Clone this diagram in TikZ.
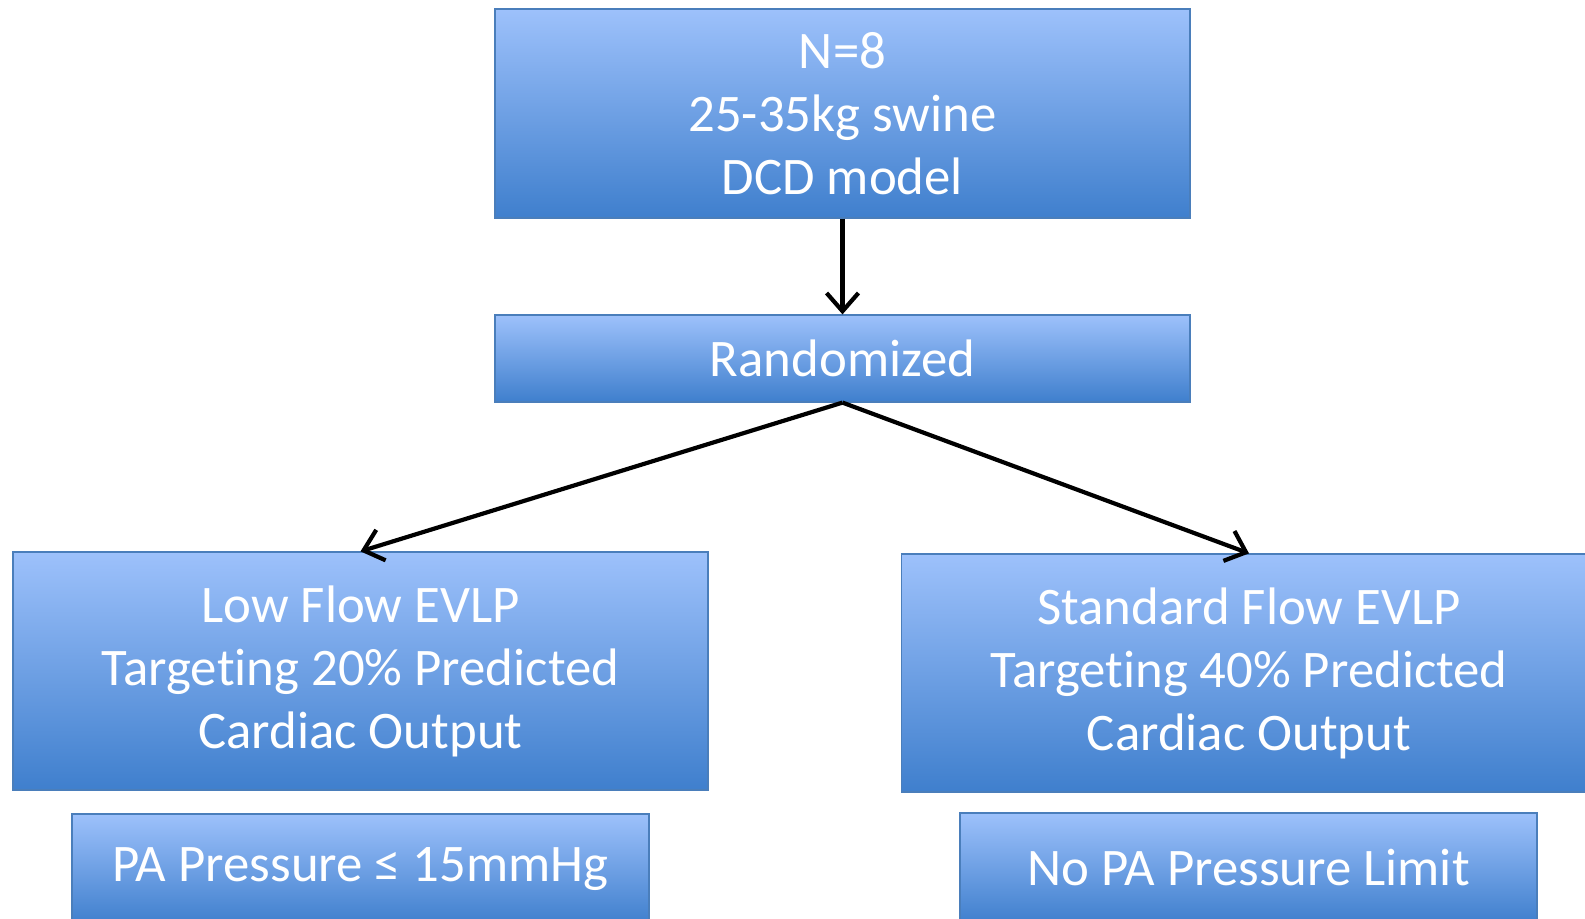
\documentclass[tikz,border=0pt]{standalone}
\usepackage{fontspec}
\setmainfont{Carlito}[Ligatures=NoCommon]
\usepackage{xcolor}
\usetikzlibrary{arrows.meta, positioning}
\definecolor{boxTop}{HTML}{9DC1FB}
\definecolor{boxBot}{HTML}{3F7FCD}
\definecolor{boxLine}{HTML}{4A7EBB}
\tikzset{
    flowBox/.style={rectangle, draw=boxLine, line width=0.6pt, top color=boxTop, bottom color=boxBot,
        text=white, align=center, font=\fontsize{26.4}{31.5}\selectfont, inner sep=0pt},
    flowArrow/.style={-{Straight Barb[length=3.2mm, width=5.6mm, line width=2.1pt]}, line width=2.1pt, black}
}

\begin{document}
\begin{tikzpicture}[x=0.5pt, y=-0.5pt]
    \useasboundingbox (0,0) rectangle (1585,919);
    % --- top of the tree ---
    \node[flowBox, minimum width=347.5pt, minimum height=104.5pt] (swine) at (842.5,113.5)
        {N=8\\25-35kg swine\\DCD model};
    \node[flowBox, minimum width=347.5pt, minimum height=43.5pt] (rand) at (842.5,358.5) {Randomized};
    % --- the two arms ---
    \node[flowBox, minimum width=347.5pt, minimum height=119pt] (lowFlow) at (360.5,671)
        {Low Flow EVLP\\Targeting 20\% Predicted\\Cardiac Output};
    \node[flowBox, minimum width=347.5pt, minimum height=119pt] (stdFlow) at (1249,673)
        {Standard Flow EVLP\\Targeting 40\% Predicted\\Cardiac Output};
    \node[flowBox, minimum width=288.5pt, minimum height=55pt] (lowLimit) at (360.5,869)
        {PA Pressure ≤ 15mmHg};
    \node[flowBox, minimum width=288.5pt, minimum height=55pt] (stdLimit) at (1248.5,868)
        {No PA Pressure Limit};
    % --- connectors ---
    \draw[flowArrow] (swine.south) -- (rand.north);
    \draw[flowArrow] (rand.south) -- (lowFlow.north);
    \draw[flowArrow] (rand.south) -- (stdFlow.north);
\end{tikzpicture}
\end{document}
